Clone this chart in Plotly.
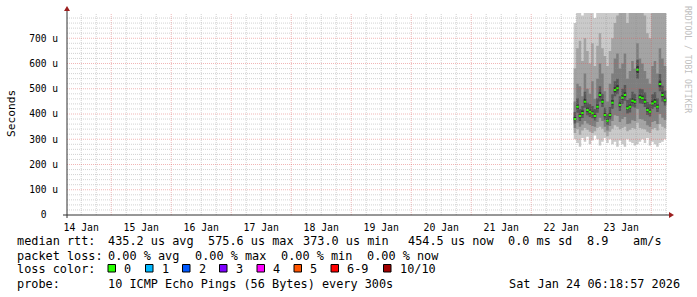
import plotly.graph_objects as go
from datetime import datetime, timedelta

# ---------------- data ----------------
range_start = "2026-01-14 06:18:57"
range_end = "2026-01-24 06:18:57"
day_label_pos = ["2026-01-14 12:00", "2026-01-15 12:00", "2026-01-16 12:00", "2026-01-17 12:00",
                 "2026-01-18 12:00", "2026-01-19 12:00", "2026-01-20 12:00", "2026-01-21 12:00",
                 "2026-01-22 12:00", "2026-01-23 12:00"]
day_labels = ["14 Jan", "15 Jan", "16 Jan", "17 Jan", "18 Jan",
              "19 Jan", "20 Jan", "21 Jan", "22 Jan", "23 Jan"]
y_tickvals = [0, 100, 200, 300, 400, 500, 600, 700]
y_ticktext = ["0\u00a0\u00a0", "100 u", "200 u", "300 u", "400 u", "500 u", "600 u", "700 u"]
y_max = 800
minor_hours = 6
y_minor = 20

first_step = "2026-01-22 17:00"   # one consolidated value per hour
step_hours = 1

# median rtt (microseconds)
median = [380, 429, 392, 404, 449, 416, 409, 403, 392, 429, 475, 449, 396, 373, 396, 445, 495, 502, 436,
          464, 475, 423, 429, 452, 449, 575.6, 466, 462, 449, 416, 409, 442, 449, 429, 519, 475, 454.5]
# sorted pings per step (microseconds)
p1 = [300, 285, 270, 305, 290, 310, 280, 295, 315, 300, 275, 290, 305, 285, 300, 280, 290, 270, 295,
      280, 270, 300, 290, 285, 275, 280, 290, 300, 285, 305, 275, 290, 280, 270, 285, 290, 300]
p2 = [325, 340, 318, 335, 345, 338, 330, 325, 332, 345, 350, 342, 328, 312, 330, 342, 355, 350, 340,
      345, 350, 332, 338, 345, 342, 365, 345, 342, 340, 330, 325, 340, 345, 335, 360, 350, 344]
p3 = [345, 365, 350, 358, 372, 362, 356, 352, 350, 368, 385, 372, 350, 335, 352, 372, 395, 392, 368,
      380, 388, 360, 362, 375, 372, 420, 380, 378, 372, 355, 350, 368, 372, 360, 400, 385, 376]
p4 = [362, 405, 372, 384, 425, 395, 388, 383, 374, 405, 450, 428, 377, 356, 378, 420, 470, 478, 412,
      440, 452, 402, 406, 430, 426, 540, 442, 440, 428, 396, 390, 420, 428, 408, 490, 450, 434]
p5 = [375, 420, 386, 397, 441, 409, 402, 397, 386, 421, 466, 441, 390, 368, 389, 437, 486, 493, 429,
      456, 467, 417, 422, 445, 441, 562, 458, 455, 441, 410, 403, 435, 441, 422, 508, 467, 447]
p6 = [388, 438, 400, 414, 460, 425, 418, 410, 400, 438, 486, 458, 404, 381, 404, 455, 506, 514, 446,
      474, 486, 431, 438, 462, 458, 590, 476, 472, 458, 425, 418, 452, 459, 438, 532, 486, 464]
p7 = [408, 462, 420, 432, 488, 445, 440, 432, 420, 462, 510, 480, 425, 400, 428, 478, 530, 540, 470,
      500, 515, 455, 462, 488, 480, 615, 500, 498, 485, 448, 440, 478, 486, 462, 558, 512, 492]
p8 = [450, 520, 510, 470, 560, 500, 480, 530, 460, 540, 600, 560, 490, 450, 520, 560, 620, 640, 580,
      600, 640, 540, 570, 610, 580, 680, 620, 600, 570, 540, 520, 590, 610, 560, 660, 620, 590]
p9 = [580, 660, 690, 610, 700, 650, 600, 680, 590, 670, 720, 660, 630, 590, 650, 700, 760, 790, 830,
      850, 880, 760, 820, 860, 830, 900, 860, 820, 790, 720, 700, 820, 850, 810, 900, 850, 820]
p10 = [760, 850, 880, 790, 900, 840, 800, 870, 780, 880, 920, 870, 850, 800, 860, 900, 920, 940, 920,
       950, 960, 900, 920, 950, 940, 980, 950, 930, 920, 880, 860, 920, 940, 920, 960, 940, 920]
pings = [p1, p2, p3, p4, p5, p6, p7, p8, p9, p10]

loss_labels = ["0", "1", "2", "3", "4", "5", "6-9", "10/10"]
loss_colors = ["#26ff00", "#00b8ff", "#0059ff", "#7e00ff", "#ff00ff", "#ff5500", "#ff0000", "#a10000"]

rtt_items = ["median rtt:", "435.2 us avg", "575.6 us max", "373.0 us min", "454.5 us now",
             "0.0 ms sd", "8.9", "am/s"]
loss_items = ["packet loss:", "0.00 % avg", "0.00 % max", "0.00 % min", "0.00 % now"]
probe_items = ["probe:", "10 ICMP Echo Pings (56 Bytes) every 300s"]
stamp = "Sat Jan 24 06:18:57 2026"

# ---------------- geometry ----------------
W, H = 697, 297
L, R, T, B = 67, 667, 13, 215
FONT = "'DejaVu Sans Mono', 'Liberation Mono', monospace"

rtt_x = [16, 107, 207, 301.5, 406.5, 506.5, 586, 631.5]
loss_x = [16, 107, 194, 279.5, 365.5]
probe_x = [16, 107]
box_x = [108, 145.5, 182.5, 219.5, 257, 294, 331, 383.5]


def px(x):
    return (x - L) / (R - L)


def py(y):
    return (B - y) / (B - T)


def nb(s):
    return s.replace(" ", "\u00a0")


t0 = datetime.strptime(first_step, "%Y-%m-%d %H:%M")
n = len(median)
xs = [t0 + timedelta(hours=step_hours * i) for i in range(n + 1)]


def ext(a):
    return list(a) + [a[-1]]


fig = go.Figure()

# smoke: nested bands, outer lightest
half = len(pings) // 2
for ib in range(half):
    lo = pings[ib]
    hi = pings[len(pings) - 1 - ib]
    g = int(190 / half * (half - (ib + 1))) + 50
    col = f"rgb({g},{g},{g})"
    fig.add_trace(go.Scatter(x=xs, y=ext(lo), mode="lines", line=dict(width=0, shape="hv"),
                             hoverinfo="skip", showlegend=False))
    fig.add_trace(go.Scatter(x=xs, y=ext(hi), mode="lines", line=dict(width=0, shape="hv"),
                             fill="tonexty", fillcolor=col, hoverinfo="skip", showlegend=False))

# median band (2 px tall), loss colour 0
half_px = y_max / (B - T)
fig.add_trace(go.Scatter(x=xs, y=ext([m - half_px for m in median]), mode="lines",
                         line=dict(width=0, shape="hv"), hoverinfo="skip", showlegend=False))
fig.add_trace(go.Scatter(x=xs, y=ext([m + half_px for m in median]), mode="lines",
                         line=dict(width=0, shape="hv"), fill="tonexty", fillcolor=loss_colors[0],
                         hoverinfo="skip", showlegend=False))

# dummy trace for label axis
fig.add_trace(go.Scatter(x=[range_start], y=[None], xaxis="x2", yaxis="y", mode="lines",
                         showlegend=False, hoverinfo="skip"))

fig.update_layout(
    width=W, height=H,
    margin=dict(l=L, r=W - R, t=T, b=H - B),
    paper_bgcolor="white", plot_bgcolor="white",
    font=dict(family=FONT, color="black"),
    showlegend=False,
    xaxis=dict(type="date", range=[range_start, range_end], showgrid=False, showticklabels=False,
               zeroline=False, showline=False, ticks=""),
    xaxis2=dict(type="date", overlaying="x", side="bottom", anchor="y", range=[range_start, range_end],
                tickmode="array", tickvals=day_label_pos, ticktext=day_labels, showgrid=False,
                zeroline=False, ticks="outside", ticklen=3, tickcolor="rgba(0,0,0,0)",
                tickfont=dict(family=FONT, size=9.8, color="black")),
    yaxis=dict(range=[0, y_max], tickmode="array", tickvals=y_tickvals, ticktext=y_ticktext,
               showgrid=False, zeroline=False, showline=False, ticks="outside", ticklen=6,
               tickcolor="rgba(0,0,0,0)", tickfont=dict(family=FONT, size=9.6, color="black")),
)

shapes = []
minor_grid = "rgba(143,143,143,0.40)"
major_grid = "rgba(222,80,80,0.42)"
dash = "1px,1px"

# grid drawn above the smoke (as rrdtool does)
gstart = datetime.strptime("2026-01-14", "%Y-%m-%d")
gend = datetime.strptime(range_end, "%Y-%m-%d %H:%M:%S")
gs = datetime.strptime(range_start, "%Y-%m-%d %H:%M:%S")
t = gstart
while t <= gend:
    if t >= gs:
        major = t.hour == 0
        shapes.append(dict(type="line", xref="x", yref="paper", x0=t, x1=t, y0=0, y1=1,
                           line=dict(color=major_grid if major else minor_grid, width=1, dash=dash),
                           layer="above"))
    t += timedelta(hours=minor_hours)
for v in range(y_minor, y_max, y_minor):
    major = v in y_tickvals
    shapes.append(dict(type="line", xref="paper", yref="y", x0=0, x1=1, y0=v, y1=v,
                       line=dict(color=major_grid if major else minor_grid, width=1, dash=dash),
                       layer="above"))

axis_col = "#303030"
arrow_col = "#9c1f1f"
# x axis line + arrow
shapes.append(dict(type="line", xref="paper", yref="paper", x0=px(63), x1=px(670), y0=0, y1=0,
                   line=dict(color=axis_col, width=1), layer="above"))
shapes.append(dict(type="path", xref="paper", yref="paper",
                   path=f"M {px(669)} {py(212)} L {px(674)} {py(215)} L {px(669)} {py(218)} Z",
                   fillcolor=arrow_col, line=dict(width=0), layer="above"))
# y axis line + arrow
shapes.append(dict(type="line", xref="paper", yref="paper", x0=0, x1=0, y0=py(218), y1=py(10),
                   line=dict(color=axis_col, width=1), layer="above"))
shapes.append(dict(type="path", xref="paper", yref="paper",
                   path=f"M {px(64)} {py(11)} L {px(67)} {py(6)} L {px(70)} {py(11)} Z",
                   fillcolor=arrow_col, line=dict(width=0), layer="above"))

ann = []
TS = 11.85


def text(s, x, y, xanchor="left", size=TS, color="black", angle=0):
    ann.append(dict(text=nb(s), x=px(x), y=py(y), xref="paper", yref="paper", xanchor=xanchor,
                    yanchor="middle", showarrow=False, borderpad=0, textangle=angle,
                    font=dict(family=FONT, size=size, color=color)))


text("Seconds", 11, 114, xanchor="center", size=11.2, angle=-90)
ann.append(dict(text=nb("RRDTOOL / TOBI OETIKER"), x=px(688), y=py(59), xref="paper", yref="paper",
                xanchor="center", yanchor="middle", showarrow=False, textangle=90, borderpad=0,
                font=dict(family=FONT, size=8.1, color="#c0c0c0")))

for s, x in zip(rtt_items, rtt_x):
    text(s, x, 241.5)
for s, x in zip(loss_items, loss_x):
    text(s, x, 255.5)
text("loss color:", 16, 269)
for bx, lab, col in zip(box_x, loss_labels, loss_colors):
    shapes.append(dict(type="rect", xref="paper", yref="paper", x0=px(bx), x1=px(bx + 7.5),
                       y0=py(264.5), y1=py(272), fillcolor=col, line=dict(color="black", width=1),
                       layer="above"))
    text(lab, bx + 15, 269)
for s, x in zip(probe_items, probe_x):
    text(s, x, 283.5)
text(stamp, 681, 283.5, xanchor="right")

fig.update_layout(shapes=shapes, annotations=ann)
fig.write_html("out.html")
